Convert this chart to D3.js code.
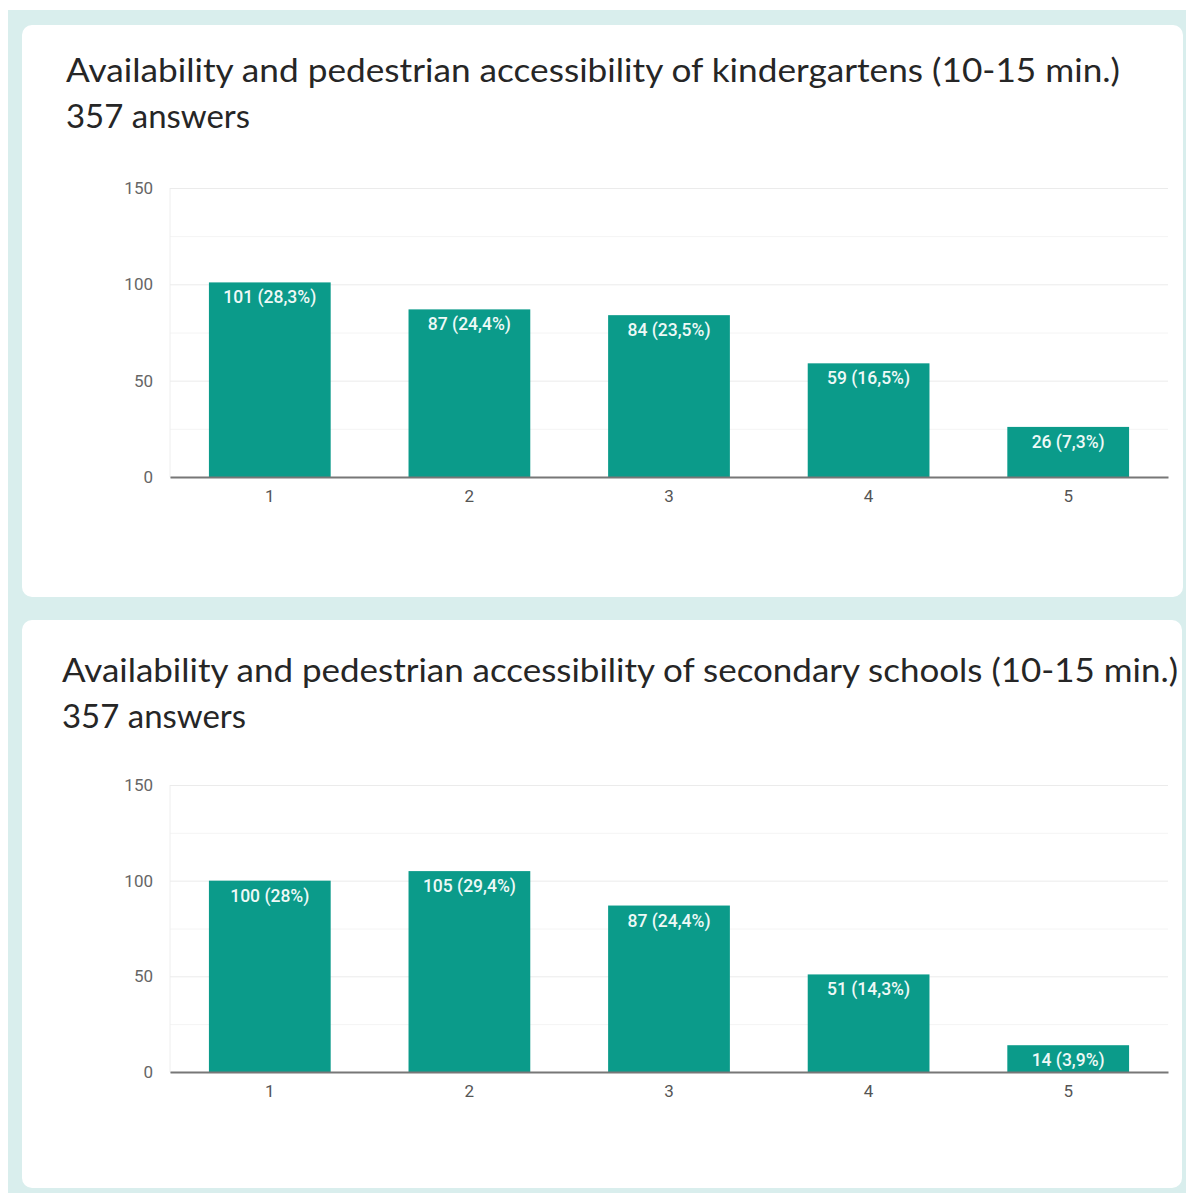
<!DOCTYPE html>
<html>
<head>
<meta charset="utf-8">
<script src="https://cdn.jsdelivr.net/npm/d3@7"></script>
<style>
  html, body { margin: 0; padding: 0; background: #ffffff; }
  svg { display: block; }
</style>
</head>
<body>
<svg id="chart" width="1186" height="1193"></svg>
<script>
// Survey answers: counts per rating (1–5) and their shares
const categories = ["1", "2", "3", "4", "5"];
const kindergartenCounts = [101, 87, 84, 59, 26];
const kindergartenShares = ["28,3%", "24,4%", "23,5%", "16,5%", "7,3%"];
const schoolCounts = [100, 105, 87, 51, 14];
const schoolShares = ["28%", "29,4%", "24,4%", "14,3%", "3,9%"];
const yTicks = [0, 50, 100, 150];
const yMinorTicks = [25, 75, 125];

const panels = [
  {
    title: "Availability and pedestrian accessibility of kindergartens (10-15 min.)",
    subtitle: "357 answers",
    counts: kindergartenCounts,
    shares: kindergartenShares,
    card: { x: 22, y: 25, w: 1161, h: 572 },
    titleX: 66, titleY: 82, titleW: 1054, subY: 128, subW: 184,
    plotTop: 188, plotBottom: 477
  },
  {
    title: "Availability and pedestrian accessibility of secondary schools (10-15 min.)",
    subtitle: "357 answers",
    counts: schoolCounts,
    shares: schoolShares,
    card: { x: 22, y: 620, w: 1160, h: 568 },
    titleX: 62, titleY: 682, titleW: 1116, subY: 728, subW: 184,
    plotTop: 785, plotBottom: 1072
  }
];

const svg = d3.select("#chart");
const plotLeft = 170, plotRight = 1168;
const headingFont = "Lato, 'Open Sans', sans-serif";
const chartFont = "Roboto, sans-serif";

// page frame
svg.append("rect").attr("x", 8).attr("y", 10).attr("width", 1178).attr("height", 1183)
  .attr("fill", "#d9eeed");

const x = d3.scaleBand()
  .domain(categories)
  .range([plotLeft, plotRight])
  .paddingInner(0.39)
  .paddingOuter(0.195);

panels.forEach(p => {
  const g = svg.append("g");

  g.append("rect")
    .attr("x", p.card.x).attr("y", p.card.y)
    .attr("width", p.card.w).attr("height", p.card.h)
    .attr("rx", 10).attr("fill", "#ffffff");

  g.append("text")
    .attr("x", p.titleX).attr("y", p.titleY)
    .attr("textLength", p.titleW).attr("lengthAdjust", "spacingAndGlyphs")
    .attr("font-family", headingFont)
    .attr("font-size", 33).attr("fill", "#262626")
    .text(p.title);

  g.append("text")
    .attr("x", p.titleX).attr("y", p.subY)
    .attr("textLength", p.subW).attr("lengthAdjust", "spacingAndGlyphs")
    .attr("font-family", headingFont)
    .attr("font-size", 33).attr("fill", "#262626")
    .text(p.subtitle);

  const y = d3.scaleLinear().domain([0, 150]).range([p.plotBottom, p.plotTop]);

  // minor gridlines
  g.append("g")
    .attr("transform", `translate(${plotLeft},0)`)
    .call(d3.axisLeft(y).tickValues(yMinorTicks).tickSize(-(plotRight - plotLeft)).tickFormat(""))
    .call(a => a.select(".domain").remove())
    .call(a => a.selectAll("line").attr("stroke", "#f4f4f4").attr("stroke-width", 1));

  // major gridlines and labels
  g.append("g")
    .attr("transform", `translate(${plotLeft},0)`)
    .call(d3.axisLeft(y).tickValues(yTicks).tickSize(-(plotRight - plotLeft)).tickPadding(17))
    .call(a => a.select(".domain").attr("stroke", "#eeeeee").attr("d", `M0,${p.plotBottom}V${p.plotTop}`))
    .call(a => a.selectAll("line").attr("stroke", "#ebebeb").attr("stroke-width", 1))
    .call(a => a.selectAll("text")
      .attr("font-family", chartFont).attr("font-size", 17).attr("fill", "#666"));

  // bars
  g.append("g").selectAll("rect")
    .data(p.counts)
    .join("rect")
    .attr("x", (d, i) => x(categories[i]))
    .attr("width", x.bandwidth())
    .attr("y", d => y(d))
    .attr("height", d => y(0) - y(d))
    .attr("fill", "#0b9b8a");

  // value labels inside bars
  g.append("g").selectAll("text")
    .data(p.counts)
    .join("text")
    .attr("x", (d, i) => x(categories[i]) + x.bandwidth() / 2)
    .attr("y", d => y(d) + 21)
    .attr("text-anchor", "middle")
    .attr("font-family", chartFont)
    .attr("font-size", 17.5).attr("font-weight", 500)
    .attr("fill", "#eef9f7")
    .text((d, i) => `${d} (${p.shares[i]})`);

  // baseline axis with category labels
  g.append("g")
    .attr("transform", `translate(0,${p.plotBottom})`)
    .call(d3.axisBottom(x).tickSize(0).tickPadding(13))
    .call(a => a.select(".domain").attr("stroke", "#777").attr("stroke-width", 2))
    .call(a => a.selectAll("text")
      .attr("font-family", chartFont).attr("font-size", 17).attr("fill", "#555"));
});
</script>
</body>
</html>
